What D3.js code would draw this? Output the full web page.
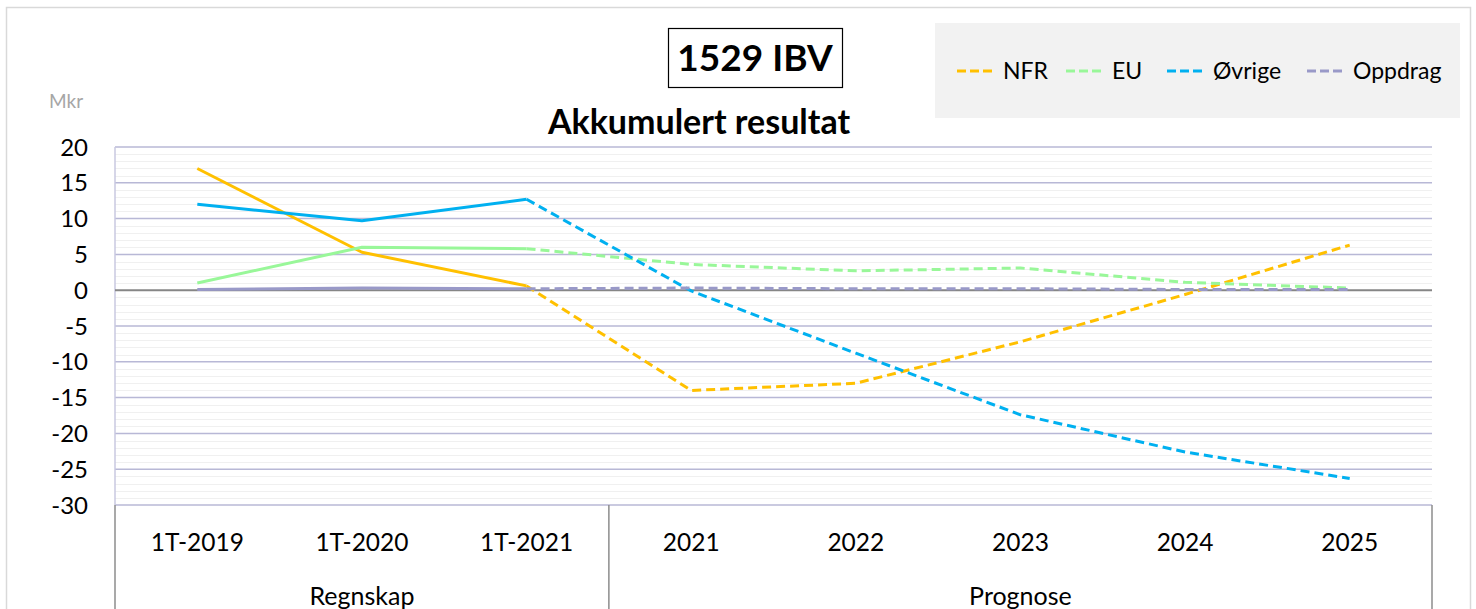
<!DOCTYPE html>
<html><head><meta charset="utf-8">
<script src="https://cdn.jsdelivr.net/npm/d3@7"></script>
<style>
html,body{margin:0;padding:0;background:#fff;}
svg{display:block;font-family:Lato,"Open Sans",sans-serif;}
</style></head>
<body>
<svg id="chart" width="1476" height="609"></svg>
<script>
const categories = ["1T-2019","1T-2020","1T-2021","2021","2022","2023","2024","2025"];
const groups = [{name:"Regnskap", from:0, to:2},{name:"Prognose", from:3, to:7}];
const seriesNames = ["NFR","EU","Øvrige","Oppdrag"];
const nfr     = [17.0, 5.3, 0.6, -14.0, -13.0, -7.2, -0.6, 6.3];
const eu      = [1.0, 6.0, 5.8, 3.6, 2.7, 3.1, 1.1, 0.3];
const ovrige  = [12.0, 9.7, 12.7, -0.1, -8.8, -17.4, -22.6, -26.3];
const oppdrag = [0.1, 0.3, 0.2, 0.3, 0.2, 0.2, 0.1, 0.1];
const yTicks = [20,15,10,5,0,-5,-10,-15,-20,-25,-30];
const colors = ["#FFC000","#99F799","#00B0F0","#9999C8"];
const lastActual = 2;

const svg = d3.select("#chart");
const L=115, R=1432, T=147, B=505;
const x = d3.scaleBand().domain(categories).range([L,R]).padding(0);
const y = d3.scaleLinear().domain([-30,20]).range([B,T]);

// outer border
svg.append("path").attr("d","M6.5,609 L6.5,7.5 L1470.5,7.5 L1470.5,609")
  .attr("fill","none").attr("stroke","#d9d9d9").attr("stroke-width",1.5);

// minor gridlines
const minor = d3.range(-30,21,1).filter(v=>v%5!==0);
svg.append("g").selectAll("line").data(minor).join("line")
  .attr("x1",L).attr("x2",R).attr("y1",d=>Math.round(y(d))+0.5).attr("y2",d=>Math.round(y(d))+0.5)
  .attr("stroke","#f0f0f0").attr("stroke-width",1);
// major gridlines
svg.append("g").selectAll("line").data(yTicks.filter(v=>v!==0)).join("line")
  .attr("x1",L).attr("x2",R).attr("y1",d=>y(d)).attr("y2",d=>y(d))
  .attr("stroke","#b8b8d6").attr("stroke-width",1.5);
// left plot border
svg.append("line").attr("x1",L).attr("x2",L).attr("y1",T).attr("y2",B)
  .attr("stroke","#c8c8e0").attr("stroke-width",1.5);
// zero line
svg.append("line").attr("x1",L).attr("x2",R).attr("y1",y(0)).attr("y2",y(0))
  .attr("stroke","#868686").attr("stroke-width",2);

// y tick labels
svg.append("g").selectAll("text").data(yTicks).join("text")
  .attr("x",88).attr("y",d=>y(d)).attr("dy","0.36em").attr("text-anchor","end")
  .attr("font-size",24).attr("fill","#000").text(d=>d);

// x axis separators
const sepX = [L, x(categories[3]), R];
svg.append("g").selectAll("line").data(sepX).join("line")
  .attr("x1",d=>d).attr("x2",d=>d).attr("y1",B).attr("y2",609)
  .attr("stroke","#8c8c8c").attr("stroke-width",1.5);
// category labels
svg.append("g").selectAll("text").data(categories).join("text")
  .attr("x",d=>x(d)+x.bandwidth()/2).attr("y",551).attr("text-anchor","middle")
  .attr("font-size",24.5).attr("fill","#000").text(d=>d);
// group labels
svg.append("g").selectAll("text").data(groups).join("text")
  .attr("x",d=>(x(categories[d.from])+x(categories[d.to])+x.bandwidth())/2).attr("y",605)
  .attr("text-anchor","middle").attr("font-size",25).attr("fill","#000").text(d=>d.name);

// series
const allSeries = [nfr, eu, ovrige, oppdrag];
const line = d3.line().x(d=>x(d.c)+x.bandwidth()/2).y(d=>y(d.v));
const lineG = svg.append("g");
allSeries.forEach((vals,i)=>{
  const pts = vals.map((v,j)=>({c:categories[j],v}));
  lineG.append("path").datum(pts.slice(0,lastActual+1)).attr("d",line)
    .attr("fill","none").attr("stroke",colors[i]).attr("stroke-width",3).attr("stroke-linejoin","round");
  lineG.append("path").datum(pts.slice(lastActual)).attr("d",line)
    .attr("fill","none").attr("stroke",colors[i]).attr("stroke-width",3)
    .attr("stroke-dasharray","9,5").attr("stroke-linejoin","round");
});

// Mkr
svg.append("text").attr("x",49).attr("y",108).attr("font-size",19).attr("fill","#a6a6a6").text("Mkr");

// title box
svg.append("rect").attr("x",668.5).attr("y",28.5).attr("width",174).attr("height",59)
  .attr("fill","#fff").attr("stroke","#000").attr("stroke-width",1.2);
svg.append("text").attr("x",755).attr("y",71).attr("text-anchor","middle")
  .attr("font-size",37).attr("font-weight","bold").attr("fill","#000").text("1529 IBV");
// subtitle
svg.append("text").attr("x",699).attr("y",134).attr("text-anchor","middle")
  .attr("font-size",34).attr("font-weight","bold").attr("fill","#000").text("Akkumulert resultat");

// legend
svg.append("rect").attr("x",935).attr("y",23).attr("width",525).attr("height",95).attr("fill","#f2f2f2");
const legX = [957, 1066, 1167, 1307];
const lg = svg.append("g");
seriesNames.forEach((n,i)=>{
  lg.append("line").attr("x1",legX[i]).attr("x2",legX[i]+39).attr("y1",71).attr("y2",71)
    .attr("stroke",colors[i]).attr("stroke-width",3).attr("stroke-dasharray","9,4");
  lg.append("text").attr("x",legX[i]+46).attr("y",71).attr("dy","0.36em")
    .attr("font-size",23).attr("fill","#000").text(n);
});
</script>
</body></html>
